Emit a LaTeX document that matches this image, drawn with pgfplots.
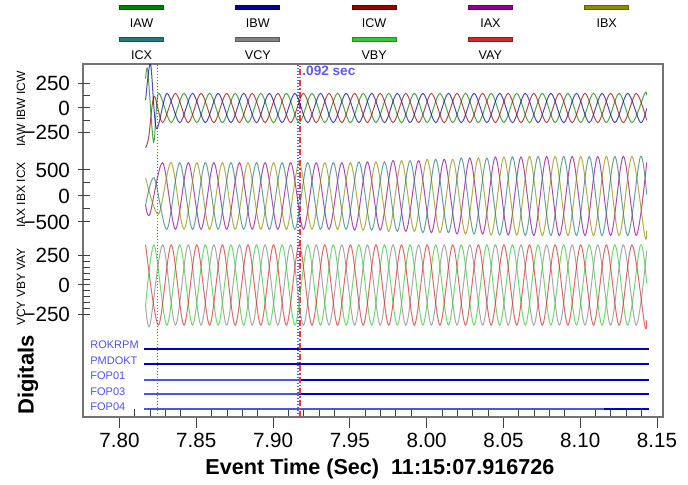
\documentclass[border=0pt]{standalone}
\usepackage{fontspec}
\setmainfont{Liberation Sans}
\usepackage{pgfplots}
\pgfplotsset{compat=1.18}
\definecolor{cIAW}{RGB}{0,128,0}
\definecolor{cIBW}{RGB}{0,0,150}
\definecolor{cICW}{RGB}{150,0,0}
\definecolor{cIAX}{RGB}{140,0,140}
\definecolor{cIBX}{RGB}{140,140,0}
\definecolor{cICX}{RGB}{40,120,120}
\definecolor{cVCY}{RGB}{130,130,130}
\definecolor{cVBY}{RGB}{50,200,50}
\definecolor{cVAY}{RGB}{210,40,40}
\definecolor{dblue}{RGB}{0,0,190}
\definecolor{lblue}{RGB}{80,80,235}
\definecolor{curblue}{RGB}{90,90,255}
\definecolor{curred}{RGB}{230,60,60}
\begin{document}
\begin{tikzpicture}
\useasboundingbox (-41.5pt,-34pt) rectangle (302.5pt,208.5pt);
\pgfplotsset{
  panel/.style={scale only axis, width=290pt, xmin=7.77623, xmax=8.15391,
    xtick=\empty, ytick pos=left, axis line style={draw=none},
    tick align=inside, major tick length=6pt, minor tick length=3.5pt,
    major tick style={xshift=-2.5pt},
    tick style={black!75, line width=0.5pt},
    yticklabel style={font=\fontsize{10.3}{12}\selectfont, xshift=-3pt},
    every axis plot/.append style={smooth, line width=0.5pt, no markers, opacity=0.7}},
}
% ---------- outer frame, digitals, cursors ----------
\begin{axis}[scale only axis, width=290pt, height=176.5pt,
  xmin=7.77623, xmax=8.15391, ymin=0, ymax=353,
  axis line style={black!55, line width=0.6pt},
  xtick={7.80,7.85,7.90,7.95,8.00,8.05,8.10,8.15},
  xticklabels={7.80,7.85,7.90,7.95,8.00,8.05,8.10,8.15},
  minor x tick num=4, ytick=\empty, xtick pos=left,
  tick align=inside, major tick length=5.5pt, minor tick length=4pt,
  major tick style={yshift=-5.5pt}, tick style={black!75, line width=0.5pt},
  xticklabel style={font=\fontsize{10.3}{12}\selectfont, yshift=-4.5pt},
]
% digital channels
\addplot[dblue, line width=1.25pt] coordinates {(7.8160,68) (8.1445,68)};
\addplot[dblue, line width=1.25pt] coordinates {(7.8160,53) (8.1445,53)};
\addplot[lblue, line width=0.6pt] coordinates {(7.8160,37) (7.9170,37)};
\addplot[dblue, line width=1.25pt] coordinates {(7.9170,37) (8.1445,37)};
\addplot[lblue, line width=0.6pt] coordinates {(7.8160,23) (7.9170,23)};
\addplot[dblue, line width=1.25pt] coordinates {(7.9170,23) (8.1445,23)};
\addplot[lblue, line width=0.6pt] coordinates {(7.8160,8) (8.1445,8)};
\addplot[dblue, line width=1.25pt] coordinates {(8.1154,8) (8.1445,8)};
% cursors
\addplot[curblue, line width=0.9pt, dash pattern=on 0.6pt off 0.9pt] coordinates {(7.8247,0) (7.8247,353)};
\addplot[curblue, line width=0.9pt, dash pattern=on 0.6pt off 0.9pt] coordinates {(7.9163,0) (7.9163,353)};
\addplot[curred, line width=0.8pt, dash pattern=on 3pt off 1pt on 0.7pt off 1pt] coordinates {(7.9174,0) (7.9174,353)};
\end{axis}
% ---------- panel 1: IAW IBW ICW ----------
\begin{axis}[panel, at={(0pt,132.54pt)}, anchor=south west, height=43.92pt,
  ymin=-450, ymax=450, ytick={-250,0,250}, yticklabels={−250,0,250}, minor y tick num=1]
\addplot[cIAW] coordinates {(7.81700,300) (7.81840,385) (7.82220,-350) (7.82533,150) (7.83367,-150) (7.84200,150) (7.85033,-150) (7.85867,150) (7.86700,-150) (7.87533,150) (7.88367,-150) (7.89200,150) (7.90033,-150) (7.90867,150) (7.91700,-150) (7.92533,150) (7.93367,-150) (7.94200,150) (7.95033,-150) (7.95867,150) (7.96700,-150) (7.97533,150) (7.98367,-150) (7.99200,150) (8.00033,-150) (8.00867,150) (8.01700,-150) (8.02533,150) (8.03367,-150) (8.04200,150) (8.05033,-150) (8.05867,150) (8.06700,-150) (8.07533,150) (8.08367,-150) (8.09200,150) (8.10033,-150) (8.10867,150) (8.11700,-150) (8.12533,150) (8.13367,-150) (8.14200,150) (8.14330,130)};
\addplot[cIBW] coordinates {(7.81700,80) (7.82020,450) (7.82400,-210) (7.83089,150) (7.83922,-150) (7.84756,150) (7.85589,-150) (7.86422,150) (7.87256,-150) (7.88089,150) (7.88922,-150) (7.89756,150) (7.90589,-150) (7.91422,150) (7.92256,-150) (7.93089,150) (7.93922,-150) (7.94756,150) (7.95589,-150) (7.96422,150) (7.97256,-150) (7.98089,150) (7.98922,-150) (7.99756,150) (8.00589,-150) (8.01422,150) (8.02256,-150) (8.03089,150) (8.03922,-150) (8.04756,150) (8.05589,-150) (8.06422,150) (8.07256,-150) (8.08089,150) (8.08922,-150) (8.09756,150) (8.10589,-150) (8.11422,150) (8.12256,-150) (8.13089,150) (8.13922,-150) (8.14330,-5)};
\addplot[cICW] coordinates {(7.81700,-410) (7.81900,-300) (7.82250,120) (7.82811,-150) (7.83644,150) (7.84478,-150) (7.85311,150) (7.86144,-150) (7.86978,150) (7.87811,-150) (7.88644,150) (7.89478,-150) (7.90311,150) (7.91144,-150) (7.91978,150) (7.92811,-150) (7.93644,150) (7.94478,-150) (7.95311,150) (7.96144,-150) (7.96978,150) (7.97811,-150) (7.98644,150) (7.99478,-150) (8.00311,150) (8.01144,-150) (8.01978,150) (8.02811,-150) (8.03644,150) (8.04478,-150) (8.05311,150) (8.06144,-150) (8.06978,150) (8.07811,-150) (8.08644,150) (8.09478,-150) (8.10311,150) (8.11144,-150) (8.11978,150) (8.12811,-150) (8.13644,150) (8.14330,-127)};
\end{axis}
% ---------- panel 2: IAX IBX ICX ----------
\begin{axis}[panel, at={(0pt,88.4pt)}, anchor=south west, height=44.2pt,
  ymin=-850, ymax=850, ytick={-500,0,500}, yticklabels={−500,0,500}, minor y tick num=1]
\addplot[cIAX] coordinates {(7.81700,-175) (7.81978,-350) (7.82811,640) (7.83644,-640) (7.84478,640) (7.85311,-640) (7.86144,640) (7.86978,-640) (7.87811,640) (7.88644,-640) (7.89478,640) (7.90311,-640) (7.91144,640) (7.91978,-640) (7.92811,640) (7.93644,-640) (7.94478,640) (7.95311,-655) (7.96144,655) (7.96978,-655) (7.97811,680) (7.98644,-680) (7.99478,680) (8.00311,-705) (8.01144,705) (8.01978,-730) (8.02811,730) (8.03644,-730) (8.04478,750) (8.05311,-750) (8.06144,750) (8.06978,-760) (8.07811,760) (8.08644,-760) (8.09478,760) (8.10311,-760) (8.11144,760) (8.11978,-760) (8.12811,760) (8.13644,-760) (8.14330,645)};
\addplot[cIBX] coordinates {(7.81700,350) (7.82533,-350) (7.83367,640) (7.84200,-640) (7.85033,640) (7.85867,-640) (7.86700,640) (7.87533,-640) (7.88367,640) (7.89200,-640) (7.90033,640) (7.90867,-640) (7.91700,640) (7.92533,-640) (7.93367,640) (7.94200,-640) (7.95033,640) (7.95867,-655) (7.96700,655) (7.97533,-680) (7.98367,680) (7.99200,-680) (8.00033,705) (8.00867,-705) (8.01700,705) (8.02533,-730) (8.03367,730) (8.04200,-750) (8.05033,750) (8.05867,-750) (8.06700,760) (8.07533,-760) (8.08367,760) (8.09200,-760) (8.10033,760) (8.10867,-760) (8.11700,760) (8.12533,-760) (8.13367,760) (8.14200,-760) (8.14330,-670)};
\addplot[cICX] coordinates {(7.81700,-175) (7.82256,350) (7.83089,-640) (7.83922,640) (7.84756,-640) (7.85589,640) (7.86422,-640) (7.87256,640) (7.88089,-640) (7.88922,640) (7.89756,-640) (7.90589,640) (7.91422,-640) (7.92256,640) (7.93089,-640) (7.93922,640) (7.94756,-640) (7.95589,655) (7.96422,-655) (7.97256,655) (7.98089,-680) (7.98922,680) (7.99756,-705) (8.00589,705) (8.01422,-705) (8.02256,730) (8.03089,-730) (8.03922,730) (8.04756,-750) (8.05589,750) (8.06422,-760) (8.07256,760) (8.08089,-760) (8.08922,760) (8.09756,-760) (8.10589,760) (8.11422,-760) (8.12256,760) (8.13089,-760) (8.13922,760) (8.14330,27)};
\end{axis}
% ---------- panel 3: VCY VBY VAY ----------
\begin{axis}[panel, at={(0pt,42.4pt)}, anchor=south west, height=47.2pt,
  ymin=-400, ymax=400, ytick={-250,0,250}, yticklabels={−250,0,250}, minor y tick num=4]
\addplot[cVCY] coordinates {(7.81700,-170) (7.81978,-340) (7.82811,340) (7.83644,-340) (7.84478,340) (7.85311,-340) (7.86144,340) (7.86978,-340) (7.87811,340) (7.88644,-340) (7.89478,340) (7.90311,-340) (7.91144,340) (7.91978,-340) (7.92811,340) (7.93644,-340) (7.94478,340) (7.95311,-340) (7.96144,340) (7.96978,-340) (7.97811,340) (7.98644,-340) (7.99478,340) (8.00311,-340) (8.01144,340) (8.01978,-340) (8.02811,340) (8.03644,-340) (8.04478,340) (8.05311,-340) (8.06144,340) (8.06978,-340) (8.07811,340) (8.08644,-340) (8.09478,340) (8.10311,-340) (8.11144,340) (8.11978,-340) (8.12811,340) (8.13644,-340) (8.14330,288)};
\addplot[cVBY] coordinates {(7.81700,-170) (7.82256,340) (7.83089,-340) (7.83922,340) (7.84756,-340) (7.85589,340) (7.86422,-340) (7.87256,340) (7.88089,-340) (7.88922,340) (7.89756,-340) (7.90589,340) (7.91422,-340) (7.92256,340) (7.93089,-340) (7.93922,340) (7.94756,-340) (7.95589,340) (7.96422,-340) (7.97256,340) (7.98089,-340) (7.98922,340) (7.99756,-340) (8.00589,340) (8.01422,-340) (8.02256,340) (8.03089,-340) (8.03922,340) (8.04756,-340) (8.05589,340) (8.06422,-340) (8.07256,340) (8.08089,-340) (8.08922,340) (8.09756,-340) (8.10589,340) (8.11422,-340) (8.12256,340) (8.13089,-340) (8.13922,340) (8.14330,12)};
\addplot[cVAY] coordinates {(7.81700,340) (7.82533,-340) (7.83367,340) (7.84200,-340) (7.85033,340) (7.85867,-340) (7.86700,340) (7.87533,-340) (7.88367,340) (7.89200,-340) (7.90033,340) (7.90867,-340) (7.91700,340) (7.92533,-340) (7.93367,340) (7.94200,-340) (7.95033,340) (7.95867,-340) (7.96700,340) (7.97533,-340) (7.98367,340) (7.99200,-340) (8.00033,340) (8.00867,-340) (8.01700,340) (8.02533,-340) (8.03367,340) (8.04200,-340) (8.05033,340) (8.05867,-340) (8.06700,340) (8.07533,-340) (8.08367,340) (8.09200,-340) (8.10033,340) (8.10867,-340) (8.11700,340) (8.12533,-340) (8.13367,340) (8.14200,-340) (8.14330,-300)};
\end{axis}
% ---------- labels ----------
\node[rotate=90, font=\fontsize{6}{7}\selectfont] at (-31pt,154pt) {IAW IBW ICW};
\node[rotate=90, font=\fontsize{6}{7}\selectfont] at (-31pt,111pt) {IAX IBX ICX};
\node[rotate=90, font=\fontsize{6}{7}\selectfont] at (-31pt,65pt) {VCY VBY VAY};
\node[rotate=90, font=\bfseries\fontsize{11}{13}\selectfont] at (-27.5pt,21pt) {Digitals};
\node[font=\bfseries\fontsize{10.8}{13}\selectfont] at (148.5pt,-26pt) {Event Time (Sec)\ \ 11:15:07.916726};
\node[anchor=west, inner sep=0pt, text=curblue, font=\bfseries\fontsize{6.8}{8}\selectfont] at (109.5pt,173pt) {.092 sec};
\begin{scope}[every node/.style={anchor=west, inner sep=0pt, text=lblue, font=\fontsize{5.5}{6.5}\selectfont}]
\node at (3.5pt,36pt) {ROKRPM};
\node at (3.5pt,28pt) {PMDOKT};
\node at (3.5pt,20.5pt) {FOP01};
\node at (3.5pt,12.5pt) {FOP03};
\node at (3.5pt,5pt) {FOP04};
\end{scope}
% ---------- legend ----------
\begin{scope}[every node/.style={font=\fontsize{6.3}{7.5}\selectfont, inner sep=0pt}]
\newcommand{\legitem}[4]{%
  \filldraw[fill=#1, draw=#1!70!black, line width=0.35pt] ({#2pt-11pt},{#3pt-1.2pt}) rectangle ({#2pt+11pt},{#3pt+1.2pt});
  \node at (#2pt,{#3pt-8pt}) {#4};}
\legitem{cIAW}{29.25}{204.85}{IAW}
\legitem{cIBW}{87.4}{204.85}{IBW}
\legitem{cICW}{145.55}{204.85}{ICW}
\legitem{cIAX}{203.7}{204.85}{IAX}
\legitem{cIBX}{261.85}{204.85}{IBX}
\legitem{cICX}{29.25}{188.85}{ICX}
\legitem{cVCY}{87.4}{188.85}{VCY}
\legitem{cVBY}{145.55}{188.85}{VBY}
\legitem{cVAY}{203.7}{188.85}{VAY}
\end{scope}
\end{tikzpicture}
\end{document}
